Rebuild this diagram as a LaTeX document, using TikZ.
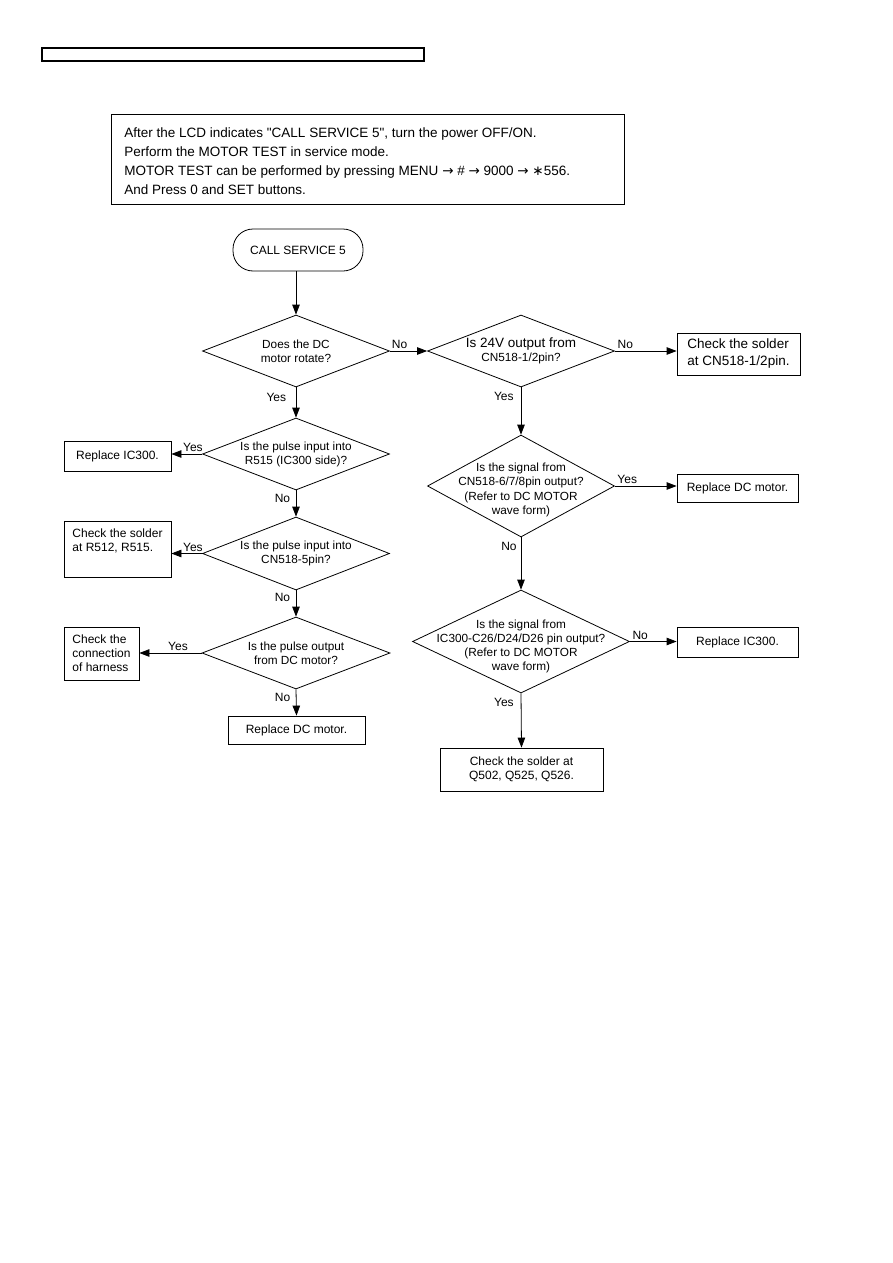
\documentclass[tikz,border=0pt]{standalone}
\usepackage{fontspec}
\setmainfont{Liberation Sans}[Ligatures=TeXOff]
\newfontfamily\symf{DejaVu Sans}
\usetikzlibrary{shapes.geometric,arrows.meta}
\begin{document}
\begin{tikzpicture}[x=1pt,y=-1pt,
  line width=0.8pt,
  arr/.style={draw, -{Triangle[length=10pt,width=7.5pt]}},
  dmd/.style={draw, diamond, inner sep=0pt},
  dtxt/.style={align=center, font=\fontsize{11.8}{14}\selectfont, inner sep=0pt},
  boxx/.style={draw, rectangle, inner sep=0pt, font=\fontsize{12}{14}\selectfont},
  lbl/.style={font=\fontsize{12}{14}\selectfont, inner sep=1.5pt}
]
\useasboundingbox (0,0) rectangle (893,1263);
% header bar
\draw[line width=1.2pt] (42,48) rectangle (424,61);
% intro box
\node[draw, rectangle, minimum width=513pt, minimum height=90pt, inner sep=0pt] (introbox) at (367.5,159) {};
\node[anchor=west, align=left, inner sep=0pt, font=\fontsize{13.5}{19}\selectfont] (intro) at (124,161) {After the LCD indicates "CALL SERVICE 5", turn the power OFF/ON.\\
Perform the MOTOR TEST in service mode.\\
MOTOR TEST can be performed by pressing MENU {\symf →} \# {\symf →} 9000 {\symf →} {\symf ∗}556.\\
And Press 0 and SET buttons.};

% start
\node[draw, rectangle, rounded corners=20pt, minimum width=130pt, minimum height=42pt, inner sep=0pt, font=\fontsize{12}{14}\selectfont] (start) at (298,250) {CALL SERVICE 5};

% diamonds
\node[dmd, minimum width=187pt, minimum height=72pt] (d1) at (296,351) {};
\node[dtxt] (t1) at (d1) {Does the DC\\motor rotate?};
\node[dmd, minimum width=187pt, minimum height=72pt] (d2) at (521,351) {};
\node[dtxt] (t2) at (d2) {{\fontsize{13.5}{15}\selectfont Is 24V output from}\\CN518-1/2pin?};
\node[dmd, minimum width=187pt, minimum height=102pt] (d3) at (521,486) {};
\node[dtxt, font=\fontsize{11.8}{14.5}\selectfont] (t3) at ([yshift=-4pt]d3.center) {Is the signal from\\CN518-6/7/8pin output?\\(Refer to DC MOTOR\\wave form)};
\node[dmd, minimum width=217pt, minimum height=103pt] (d4) at (521,641.5) {};
\node[dtxt] (t4) at ([yshift=-5pt]d4.center) {Is the signal from\\IC300-C26/D24/D26 pin output?\\(Refer to DC MOTOR\\wave form)};
\node[dmd, minimum width=187pt, minimum height=72pt] (d5) at (296,454) {};
\node[dtxt] (t5) at (d5) {Is the pulse input into\\R515 (IC300 side)?};
\node[dmd, minimum width=187pt, minimum height=73pt] (d6) at (296,553.5) {};
\node[dtxt] (t6) at (d6) {Is the pulse input into\\CN518-5pin?};
\node[dmd, minimum width=188pt, minimum height=72pt] (d7) at (296,653) {};
\node[dtxt] (t7) at (d7) {Is the pulse output\\from DC motor?};

% boxes
\node[boxx, minimum width=123pt, minimum height=42pt, align=left, font=\fontsize{13.5}{17}\selectfont] (b1) at (738.5,354) {Check the solder\\at CN518-1/2pin.};
\node[boxx, minimum width=121pt, minimum height=28pt] (b2) at (737.5,488) {Replace DC motor.};
\node[boxx, minimum width=121pt, minimum height=30pt] (b3) at (737.5,642) {Replace IC300.};
\node[boxx, minimum width=163pt, minimum height=43pt, align=center] (b4) at (521.5,769.5) {Check the solder at\\Q502, Q525, Q526.};
\node[boxx, minimum width=107pt, minimum height=30pt] (b5) at (117.5,456) {Replace IC300.};
\node[boxx, minimum width=107pt, minimum height=56pt, align=left] (b6) at (117.5,549) {Check the solder\\at R512, R515.\\\strut};
\node[boxx, minimum width=75pt, minimum height=53pt, align=left] (b7) at (101.5,653.5) {Check the\\connection\\of harness};
\node[boxx, minimum width=137pt, minimum height=28pt] (b8) at (296.5,730) {Replace DC motor.};

% connectors
\draw[arr] (start.south -| d1.north) -- (d1.north);
\draw[arr] (d1.east) -- node[lbl, pos=0.26, above] {No} (d2.west);
\draw[arr] (d2.east) -- node[lbl, pos=0.17, above] {No} (d2.east -| b1.west);
\draw[arr] (d2.south) -- node[lbl, pos=0.2, left=5.5pt] {Yes} (d3.north);
\draw[arr] (d3.east) -- node[lbl, pos=0.2, above] {Yes} (d3.east -| b2.west);
\draw[arr] (d3.south) -- node[lbl, pos=0.17, left=2.5pt] {No} (d4.north);
\draw[arr] (d4.east) -- node[lbl, pos=0.22, above] {No} (d4.east -| b3.west);
\draw[arr] (d4.south) -- node[lbl, pos=0.16, left=5.5pt] {Yes} (b4.north);
\draw[arr] (d1.south) -- node[lbl, pos=0.32, left=8pt] {Yes} (d5.north);
\draw[arr] (d5.west) -- node[lbl, pos=0.3, above] {Yes} (d5.west -| b5.east);
\draw[arr] (d5.south) -- node[lbl, pos=0.3, left=4pt] {No} (d6.north);
\draw[arr] (d6.west) -- node[lbl, pos=0.3, above] {Yes} (d6.west -| b6.east);
\draw[arr] (d6.south) -- node[lbl, pos=0.26, left=4pt] {No} (d7.north);
\draw[arr] (d7.west) -- node[lbl, pos=0.38, above] {Yes} (d7.west -| b7.east);
\draw[arr] (d7.south) -- node[lbl, pos=0.3, left=4pt] {No} (b8.north);
\end{tikzpicture}
\end{document}
